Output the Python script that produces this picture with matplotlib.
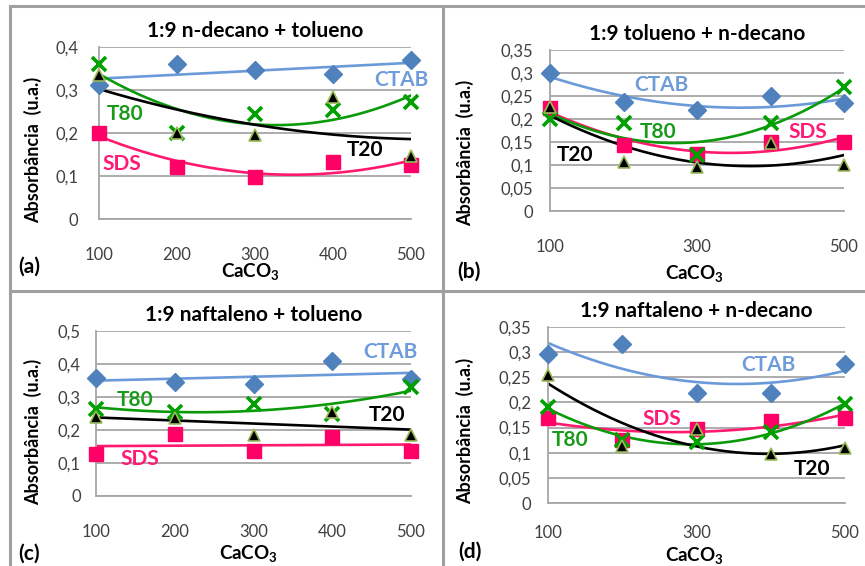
import matplotlib
matplotlib.use("Agg")
import matplotlib.pyplot as plt
import numpy as np
from matplotlib.lines import Line2D

plt.rcParams['font.family'] = ['Lato', 'DejaVu Sans']
plt.rcParams['mathtext.fontset'] = 'custom'
plt.rcParams['mathtext.rm'] = 'Lato:bold'
plt.rcParams['mathtext.it'] = 'Lato:bold'
plt.rcParams['mathtext.bf'] = 'Lato:bold'

# CaCO3 amounts (x axis)
caco3 = [100, 200, 300, 400, 500]

# absorbance per panel
# (a) 1:9 n-decano + tolueno
a_ctab = [0.311, 0.361, 0.346, 0.337, 0.369]
a_t20 = [0.334, 0.199, 0.195, 0.284, 0.146]
a_t80 = [0.361, 0.200, 0.245, 0.253, 0.272]
a_sds = [0.201, 0.121, 0.098, 0.132, 0.125]
# (b) 1:9 tolueno + n-decano
b_ctab = [0.299, 0.238, 0.220, 0.249, 0.234]
b_t20 = [0.227, 0.106, 0.096, 0.147, 0.099]
b_t80 = [0.201, 0.191, 0.122, 0.191, 0.270]
b_sds = [0.223, 0.143, 0.125, 0.151, 0.151]
# (c) 1:9 naftaleno + tolueno
c_ctab = [0.358, 0.346, 0.338, 0.409, 0.356]
c_t20 = [0.240, 0.235, 0.184, 0.255, 0.184]
c_t80 = [0.265, 0.255, 0.280, 0.250, 0.330]
c_sds = [0.126, 0.189, 0.137, 0.179, 0.137]
# (d) 1:9 naftaleno + n-decano
d_ctab = [0.297, 0.317, 0.218, 0.219, 0.277]
d_t20 = [0.255, 0.113, 0.147, 0.098, 0.109]
d_t80 = [0.191, 0.125, 0.121, 0.141, 0.196]
d_sds = [0.169, 0.125, 0.147, 0.164, 0.169]

titles = ['1:9 n-decano + tolueno', '1:9 tolueno + n-decano',
          '1:9 naftaleno + tolueno', '1:9 naftaleno + n-decano']
tags = ['(a)', '(b)', '(c)', '(d)']
yticks_a = [0, 0.1, 0.2, 0.3, 0.4]
yticks_b = [0, 0.05, 0.1, 0.15, 0.2, 0.25, 0.3, 0.35]
yticks_c = [0, 0.1, 0.2, 0.3, 0.4, 0.5]
yticks_d = [0, 0.05, 0.1, 0.15, 0.2, 0.25, 0.3, 0.35]
xticks_a = [100, 200, 300, 400, 500]
xticks_b = [100, 300, 500]

W, H = 865, 566
fig = plt.figure(figsize=(W / 100, H / 100), dpi=100)

# style of each series: marker colour, line colour, label colour
styles = {
    'CTAB': dict(marker='D', mfc='#4F81BD', mec='#4F81BD', ms=9.5, mew=1,
                 line='#6A9AD8', lab='#6E9CDA'),
    'T80': dict(marker='x', mfc='#00A000', mec='#00A000', ms=10, mew=2.6,
                line='#0A9A0A', lab='#1A9A1A'),
    'SDS': dict(marker='s', mfc='#FF0066', mec='#FF0066', ms=10.5, mew=1,
                line='#FF1A70', lab='#FF1A75'),
    'T20': dict(marker='^', mfc='black', mec='#9BBB59', ms=8.5, mew=1.2,
                line='black', lab='black'),
}


def px_axes(x0, x1, y0, y1):
    return fig.add_axes([x0 / W, 1 - y1 / H, (x1 - x0) / W, (y1 - y0) / H])


panels = [
    dict(box=(99, 411, 47, 219), yt=yticks_a, xt=xticks_a,
         series={'CTAB': (a_ctab, 1), 'T80': (a_t80, 2), 'SDS': (a_sds, 2), 'T20': (a_t20, 2)},
         labels={'CTAB': (488, 0.323), 'T80': (133, 0.245), 'T20': (441, 0.160), 'SDS': (129, 0.129)},
         ylab=(33, 150), xlab=(250, 272), tag=(29, 267), ypad=15, xpad=20),
    dict(box=(550, 844, 50, 211), yt=yticks_b, xt=xticks_b,
         series={'CTAB': (b_ctab, 2), 'T80': (b_t80, 2), 'SDS': (b_sds, 2), 'T20': (b_t20, 2)},
         labels={'CTAB': (252, 0.274), 'T80': (247, 0.172), 'SDS': (451, 0.172), 'T20': (134, 0.122)},
         ylab=(465, 153), xlab=(694, 273), tag=(469, 272), ypad=12, xpad=20),
    dict(box=(96, 411, 331, 496), yt=yticks_c, xt=xticks_a,
         series={'CTAB': (c_ctab, 1), 'T80': (c_t80, 2), 'SDS': (c_sds, 1), 'T20': (c_t20, 1)},
         labels={'CTAB': (474, 0.437), 'T80': (150, 0.290), 'T20': (469, 0.245), 'SDS': (156, 0.113)},
         ylab=(33, 432), xlab=(248, 554), tag=(29, 554), ypad=11, xpad=20),
    dict(box=(548, 845, 327, 503), yt=yticks_d, xt=xticks_b,
         series={'CTAB': (d_ctab, 2), 'T80': (d_t80, 2), 'SDS': (d_sds, 2), 'T20': (d_t20, 2)},
         labels={'CTAB': (397, 0.274), 'SDS': (253, 0.168), 'T80': (130, 0.125), 'T20': (455, 0.068)},
         ylab=(465, 431), xlab=(694, 555), tag=(470, 552), ypad=12, xpad=16),
]

xs = np.array(caco3, dtype=float)
xfine = np.linspace(100, 500, 200)

for i, p in enumerate(panels):
    ax = px_axes(*p['box'])
    yt = p['yt']
    ax.set_xlim(100, 500)
    ax.set_ylim(0, yt[-1])
    ax.set_yticks(yt)
    ax.set_yticklabels([('%g' % v).replace('.', ',') for v in yt])
    ax.set_xticks(p['xt'])
    ax.set_xticklabels([str(v) for v in p['xt']])
    ax.grid(axis='y', color='#A6A6A6', lw=1.3)
    ax.set_axisbelow(True)
    for s in ['top', 'right']:
        ax.spines[s].set_visible(False)
    ax.spines['bottom'].set_color('#A6A6A6')
    ax.spines['bottom'].set_linewidth(1.3)
    ax.spines['left'].set_color('#A6A6A6')
    ax.spines['left'].set_linewidth(1.3)
    ax.tick_params(axis='x', length=0, pad=p['xpad'], labelsize=12, labelcolor='#404040')
    ax.tick_params(axis='y', length=0, pad=p['ypad'], labelsize=12, labelcolor='#404040')
    ax.patch.set_alpha(0)

    # trend lines first, markers on top
    for name in ['CTAB', 'SDS', 'T80', 'T20']:
        vals, deg = p['series'][name]
        st = styles[name]
        coef = np.polyfit(xs, vals, deg)
        ax.plot(xfine, np.polyval(coef, xfine), color=st['line'], lw=1.9, zorder=2)
    for name in ['CTAB', 'SDS', 'T80', 'T20']:
        vals, deg = p['series'][name]
        st = styles[name]
        ax.plot(caco3, vals, ls='none', marker=st['marker'], ms=st['ms'],
                mfc=st['mfc'], mec=st['mec'], mew=st['mew'], clip_on=False, zorder=3)
    for name, (lx, ly) in p['labels'].items():
        ax.text(lx, ly, name, color=styles[name]['lab'], fontsize=15,
                fontweight='bold', ha='center', va='center', zorder=4)

    x0, x1, y0, y1 = p['box']
    fig.text((x0 + x1) / 2 / W, 1 - (y0 - 16) / H, titles[i], ha='center',
             va='center', fontsize=15, fontweight='bold')
    fig.text(p['ylab'][0] / W, 1 - p['ylab'][1] / H, 'Absorbância  (u.a.)',
             rotation=90, ha='center', va='center', fontsize=13, fontweight='bold')
    fig.text(p['xlab'][0] / W, 1 - p['xlab'][1] / H, r'CaCO$_{3}$',
             ha='center', va='center', fontsize=13.5, fontweight='bold')
    fig.text(p['tag'][0] / W, 1 - p['tag'][1] / H, tags[i],
             ha='center', va='center', fontsize=15, fontweight='bold')

# panel frame lines
frame = dict(color='#A0A0A0', lw=2.2, transform=fig.transFigure)
fig.add_artist(Line2D([10 / W, 10 / W], [0, 1 - 6 / H], **frame))
fig.add_artist(Line2D([10 / W, 1], [1 - 6 / H, 1 - 6 / H], **frame))
fig.add_artist(Line2D([443 / W, 443 / W], [0, 1 - 6 / H], **frame))
fig.add_artist(Line2D([10 / W, 1], [1 - 291 / H, 1 - 291 / H], **frame))

fig.savefig('out.png', dpi=100)
